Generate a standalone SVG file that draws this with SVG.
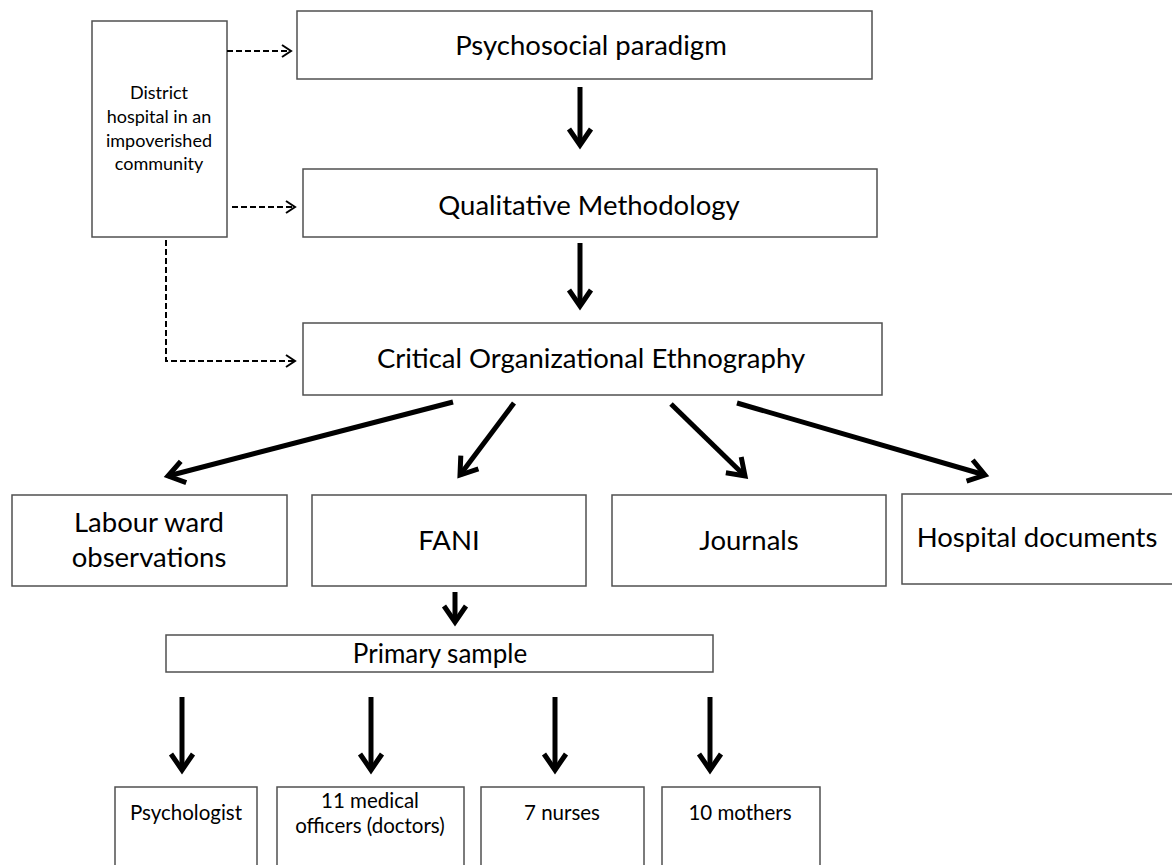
<svg xmlns="http://www.w3.org/2000/svg" width="1172" height="865" viewBox="0 0 1172 865">
<style>
.box{fill:#fff;stroke:#505050;stroke-width:1.5}
.t{font-family:Lato,"Open Sans","Liberation Sans",sans-serif;fill:#000;text-anchor:middle}
.big{font-size:27.5px}
.mid{font-size:26px}
.sm{font-size:20.5px}
.xs{font-size:18px}
.thick{stroke:#000;stroke-width:5;fill:none;marker-end:url(#hd)}
.dash{stroke:#000;stroke-width:2;fill:none;stroke-dasharray:6 3}
</style>
<defs>
<marker id="hd" markerUnits="userSpaceOnUse" viewBox="-22 -16 26 32" markerWidth="26" markerHeight="32" refX="0" refY="0" orient="auto" overflow="visible">
<path d="M-16,-11 L0,0 L-16,11" fill="none" stroke="#000" stroke-width="5" stroke-linejoin="miter"/>
</marker>
<marker id="dh" markerUnits="userSpaceOnUse" viewBox="-12 -8 14 16" markerWidth="14" markerHeight="16" refX="0" refY="0" orient="auto" overflow="visible">
<path d="M-9,-6 L0,0 L-9,6" fill="none" stroke="#000" stroke-width="2"/>
</marker>
</defs>

<g id="district">
<rect class="box" x="92" y="21" width="135" height="216"/>
<text class="t xs" x="159" y="99">District</text>
<text class="t xs" x="159" y="123">hospital in an</text>
<text class="t xs" x="159" y="147">impoverished</text>
<text class="t xs" x="159" y="170">community</text>
</g>

<g id="psychosocial">
<rect class="box" x="297" y="11" width="575" height="68"/>
<text class="t big" x="591" y="55">Psychosocial paradigm</text>
</g>

<g id="qualitative">
<rect class="box" x="303" y="169" width="574" height="68"/>
<text class="t big" x="589" y="215">Qualitative Methodology</text>
</g>

<g id="critical">
<rect class="box" x="303" y="323" width="579" height="72"/>
<text class="t big" x="591" y="368">Critical Organizational Ethnography</text>
</g>

<g id="labour">
<rect class="box" x="12" y="495" width="275" height="91"/>
<text class="t big" x="149" y="532">Labour ward</text>
<text class="t big" x="149" y="567">observations</text>
</g>

<g id="fani">
<rect class="box" x="312" y="495" width="274" height="91"/>
<text class="t big" x="449" y="550">FANI</text>
</g>

<g id="journals">
<rect class="box" x="612" y="495" width="274" height="91"/>
<text class="t big" x="749" y="550">Journals</text>
</g>

<g id="hospitaldocs">
<rect class="box" x="902" y="494" width="275" height="90"/>
<text class="t big" x="1037" y="547">Hospital documents</text>
</g>

<g id="primary">
<rect class="box" x="166" y="635" width="547" height="37"/>
<text class="t mid" x="440" y="663">Primary sample</text>
</g>

<g id="psychologist">
<rect class="box" x="115" y="787" width="142" height="90"/>
<text class="t sm" x="186" y="820">Psychologist</text>
</g>

<g id="medical">
<rect class="box" x="277" y="787" width="187" height="90"/>
<text class="t sm" x="370" y="808">11 medical</text>
<text class="t sm" x="370" y="833">officers (doctors)</text>
</g>

<g id="nurses">
<rect class="box" x="481" y="787" width="163" height="90"/>
<text class="t sm" x="562" y="820">7 nurses</text>
</g>

<g id="mothers">
<rect class="box" x="662" y="787" width="158" height="90"/>
<text class="t sm" x="740" y="820">10 mothers</text>
</g>

<g id="connectors">
<line class="dash" x1="227" y1="51" x2="291" y2="51" marker-end="url(#dh)"/>
<line class="dash" x1="232" y1="207" x2="295" y2="207" marker-end="url(#dh)"/>
<polyline class="dash" points="166,240 166,361 295,361" marker-end="url(#dh)"/>
<line class="thick" x1="580" y1="87" x2="580" y2="145"/>
<line class="thick" x1="580" y1="243" x2="580" y2="306"/>
<line class="thick" x1="453" y1="402" x2="168" y2="476"/>
<line class="thick" x1="514" y1="403" x2="460" y2="475"/>
<line class="thick" x1="671" y1="404" x2="745" y2="476"/>
<line class="thick" x1="737" y1="403" x2="985" y2="475"/>
<line class="thick" x1="455" y1="592" x2="455" y2="622"/>
<line class="thick" x1="182" y1="697" x2="182" y2="770"/>
<line class="thick" x1="371" y1="697" x2="371" y2="770"/>
<line class="thick" x1="555" y1="697" x2="555" y2="770"/>
<line class="thick" x1="710" y1="697" x2="710" y2="770"/>
</g>
</svg>
